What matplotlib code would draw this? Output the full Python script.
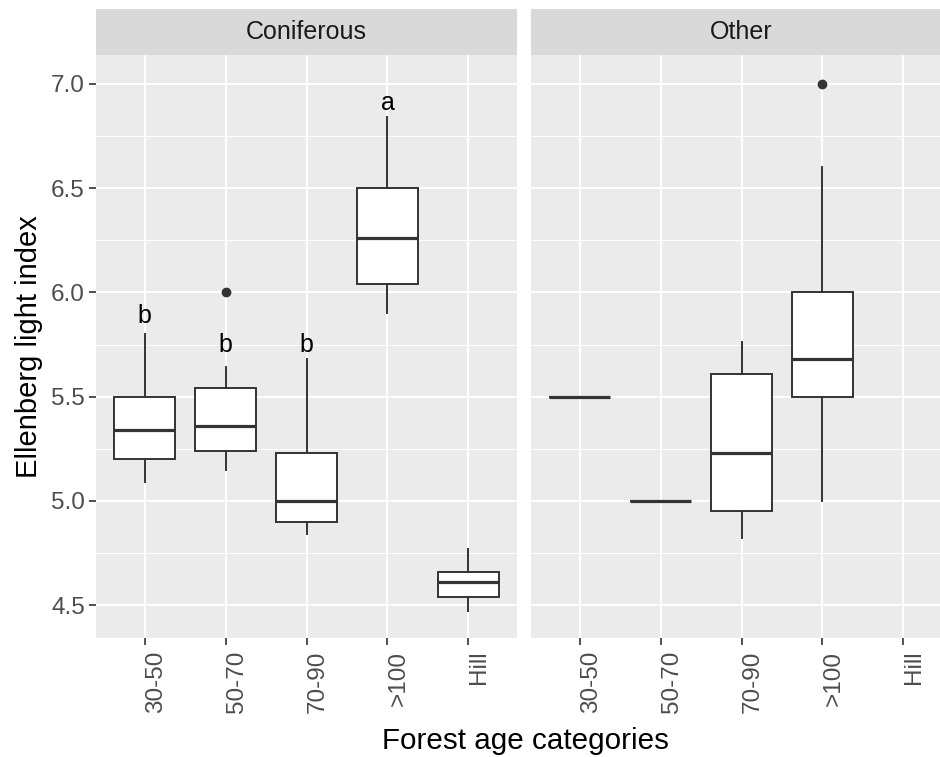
import numpy as np
import matplotlib.pyplot as plt
from matplotlib.ticker import MultipleLocator

plt.rcParams['font.family'] = ['Liberation Sans', 'DejaVu Sans']

categories = ["30-50", "50-70", "70-90", ">100", "Hill"]
facets = ["Coniferous", "Other"]

# five-number summaries per facet (None = no data in that category)
conif_lo = [5.09, 5.15, 4.84, 5.90, 4.47]
conif_q1 = [5.20, 5.24, 4.90, 6.04, 4.54]
conif_med = [5.34, 5.36, 5.00, 6.26, 4.61]
conif_q3 = [5.50, 5.54, 5.23, 6.50, 4.66]
conif_hi = [5.80, 5.64, 5.68, 6.84, 4.77]
conif_out = [[], [6.0], [], [], []]

other_lo = [5.5, 5.0, 4.82, 5.0, None]
other_q1 = [5.5, 5.0, 4.95, 5.5, None]
other_med = [5.5, 5.0, 5.23, 5.68, None]
other_q3 = [5.5, 5.0, 5.61, 6.0, None]
other_hi = [5.5, 5.0, 5.76, 6.6, None]
other_out = [[], [], [], [7.0], []]

# significance letters (Coniferous only)
letters = ["b", "b", "b", "a", ""]
letter_y = [5.855, 5.715, 5.715, 6.875, None]

panel_data = {
    "Coniferous": (conif_lo, conif_q1, conif_med, conif_q3, conif_hi, conif_out),
    "Other": (other_lo, other_q1, other_med, other_q3, other_hi, other_out),
}

W, H = 940, 757
fig = plt.figure(figsize=(W / 100, H / 100), dpi=100)

panel_left = [96, 531]
panel_w = 421
panel_top, panel_bot = 55, 638
strip_top = 9

grey_txt = "#4D4D4D"
line_col = "#333333"
x = np.arange(1, len(categories) + 1)

for i, name in enumerate(facets):
    l = panel_left[i]
    ax = fig.add_axes([l / W, (H - panel_bot) / H, panel_w / W, (panel_bot - panel_top) / H])
    ax.set_facecolor("#EBEBEB")
    for s in ax.spines.values():
        s.set_visible(False)
    ax.set_xlim(0.4, 5.6)
    ax.set_ylim(4.342, 7.139)
    ax.yaxis.set_major_locator(MultipleLocator(0.5))
    ax.yaxis.set_minor_locator(MultipleLocator(0.25))
    ax.set_xticks(x)
    ax.grid(True, which="major", color="white", lw=1.4)
    ax.grid(True, which="minor", axis="y", color="white", lw=0.7)
    ax.set_axisbelow(True)

    lo, q1, med, q3, hi, out = panel_data[name]
    stats, pos = [], []
    for j in range(len(categories)):
        if lo[j] is None:
            continue
        stats.append(dict(whislo=lo[j], q1=q1[j], med=med[j], q3=q3[j],
                          whishi=hi[j], fliers=out[j]))
        pos.append(x[j])
    ax.bxp(stats, positions=pos, widths=0.75, patch_artist=True, showcaps=False,
           boxprops=dict(facecolor="white", edgecolor=line_col, lw=1.4),
           medianprops=dict(color=line_col, lw=2.3, solid_capstyle="butt"),
           whiskerprops=dict(color=line_col, lw=1.4),
           flierprops=dict(marker="o", markerfacecolor=line_col,
                           markeredgecolor=line_col, markersize=6))
    ax.set_xticks(x)
    ax.set_xticklabels(categories, rotation=90, ha="left", va="top",
                       color=grey_txt, fontsize=17.5)
    ax.tick_params(axis="x", which="major", length=5, width=1.2, color=line_col, pad=4)
    ax.tick_params(axis="y", which="minor", length=0)

    if i == 0:
        ax.tick_params(axis="y", which="major", length=5, width=1.2, color=line_col,
                       labelsize=17.5, labelcolor=grey_txt, pad=3)
        ax.set_yticklabels([f"{v:.1f}" for v in ax.get_yticks()])
        ax.set_ylabel("Ellenberg light index", fontsize=21, labelpad=6)
        for j, t in enumerate(letters):
            if t:
                ax.text(x[j], letter_y[j], t, ha="center", va="baseline",
                        fontsize=18, color="black")
    else:
        ax.tick_params(axis="y", which="major", length=0, labelleft=False)

    sax = fig.add_axes([l / W, (H - panel_top) / H, panel_w / W, (panel_top - strip_top) / H])
    sax.set_facecolor("#D9D9D9")
    for s in sax.spines.values():
        s.set_visible(False)
    sax.set_xticks([])
    sax.set_yticks([])
    sax.text(0.5, 0.5, name, ha="center", va="center", fontsize=18,
             color="#1A1A1A", transform=sax.transAxes)

fig.text(525 / W, 1 - 741 / H, "Forest age categories", ha="center", va="center",
         fontsize=21.3)

fig.savefig("out.png", dpi=100)
